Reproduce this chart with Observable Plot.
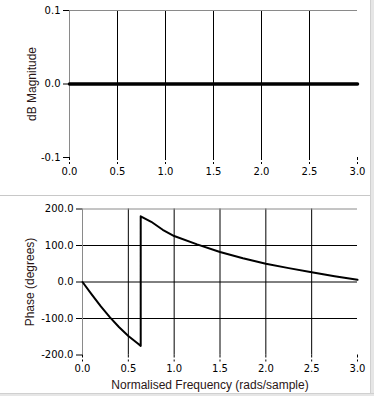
<!DOCTYPE html>
<html>
<head>
<meta charset="utf-8">
<script src="https://cdn.jsdelivr.net/npm/d3@7"></script>
<script src="https://cdn.jsdelivr.net/npm/@observablehq/plot@0.6"></script>
<style>
  html, body { margin: 0; padding: 0; background: #fff; }
  #wrap { position: relative; width: 374px; height: 396px; overflow: hidden; background: #fff; font-family: "Liberation Sans", Arial, sans-serif; }
  #top, #bottom { position: absolute; left: 0; }
  #top { top: 0; }
  #bottom { top: 197px; }
  .sep { position: absolute; left: 0; width: 370px; top: 195px; height: 1px; background: #c8c8c8; }
  .rstrip { position: absolute; left: 370px; top: 0; width: 4px; height: 396px; background: #e6e6e6; border-left: 1px solid #d0d0d0; box-sizing: border-box; }
  .bstrip { position: absolute; left: 0; top: 393px; width: 374px; height: 3px; background: #e6e6e6; border-top: 1px solid #d0d0d0; box-sizing: border-box; }
</style>
</head>
<body>
<div id="wrap">
  <div id="top"></div>
  <div class="sep"></div>
  <div id="bottom"></div>
  <div class="rstrip"></div>
  <div class="bstrip"></div>
</div>
<script>
// ---- data ----
const xTicks = [0, 0.5, 1.0, 1.5, 2.0, 2.5, 3.0];
const xGrid = [0.5, 1.0, 1.5, 2.0, 2.5];

const magTicks = [-0.1, 0.0, 0.1];
const magFreq = [0, 3];
const magDb = [0, 0];

const phaseTicks = [-200, -100, 0, 100, 200];
const phaseGrid = [-100, 0, 100];
const phaseFreq = [0, 0.1, 0.2, 0.3, 0.4, 0.5, 0.6, 0.635, 0.635, 0.75, 0.875, 1.0, 1.25, 1.5, 1.75, 2.0, 2.25, 2.5, 2.75, 3.0];
const phaseDeg  = [0, -34, -67, -97, -124, -148, -168, -175, 180, 165, 143, 126, 103, 82, 65, 50, 38, 27, 16, 6];

const magData = magFreq.map((f, i) => ({f, v: magDb[i]}));
const phaseData = phaseFreq.map((f, i) => ({f, v: phaseDeg[i]}));

const font = {fontFamily: "'Liberation Sans', Arial, sans-serif", fontSize: "11px", color: "#000", background: "transparent", overflow: "visible"};
const tickFont = "'DejaVu Sans', sans-serif";
const titleColor = "#2a1616";

const topPlot = Plot.plot({
  width: 374, height: 196,
  marginLeft: 69, marginRight: 17, marginTop: 10, marginBottom: 39,
  style: font,
  x: {domain: [0, 3]},
  y: {domain: [-0.1, 0.1]},
  marks: [
    Plot.ruleX(xGrid, {stroke: "#000", strokeWidth: 1}),
    Plot.ruleY([0.1], {stroke: "#8a8a8a"}),
    Plot.ruleX([0], {stroke: "#8a8a8a"}),
    Plot.line(magData, {x: "f", y: "v", stroke: "#000", strokeWidth: 3.5}),
    Plot.axisX({ticks: xTicks, tickSize: 7, tickPadding: 3, stroke: "#000", fill: "#000", fontFamily: tickFont, fontSize: 10, strokeDasharray: "3,2", tickFormat: d => d.toFixed(1), label: null}),
    Plot.axisY({ticks: magTicks, tickSize: 6, tickPadding: 3, stroke: "#000", fill: "#000", fontFamily: tickFont, fontSize: 10, tickFormat: d => d.toFixed(1), label: null}),
    Plot.text(["dB Magnitude"], {frameAnchor: "left", textAnchor: "middle", dx: -37, rotate: -90, fill: titleColor, fontSize: 12})
  ]
});
document.getElementById("top").appendChild(topPlot);

const bottomPlot = Plot.plot({
  width: 374, height: 199,
  marginLeft: 82, marginRight: 17, marginTop: 11.5, marginBottom: 41.5,
  style: font,
  x: {domain: [0, 3]},
  y: {domain: [-200, 200]},
  marks: [
    Plot.ruleX(xGrid, {stroke: "#000", strokeWidth: 1}),
    Plot.ruleY(phaseGrid, {stroke: "#000", strokeWidth: 1}),
    Plot.ruleY([200], {stroke: "#8a8a8a"}),
    Plot.ruleX([0], {stroke: "#8a8a8a"}),
    Plot.line(phaseData, {x: "f", y: "v", stroke: "#000", strokeWidth: 2}),
    Plot.axisX({ticks: xTicks, tickSize: 7, tickPadding: 3, stroke: "#000", fill: "#000", fontFamily: tickFont, fontSize: 10, strokeDasharray: "3,2", tickFormat: d => d.toFixed(1), label: null}),
    Plot.axisY({ticks: phaseTicks, tickSize: 6, tickPadding: 3, stroke: "#000", fill: "#000", fontFamily: tickFont, fontSize: 10, tickFormat: d => d.toFixed(1), label: null}),
    Plot.text(["Phase (degrees)"], {frameAnchor: "left", textAnchor: "middle", dx: -52, rotate: -90, fill: titleColor, fontSize: 12}),
    Plot.text(["Normalised Frequency (rads/sample)"], {frameAnchor: "bottom", dx: -10, dy: 34, fill: titleColor, fontSize: 12})
  ]
});
document.getElementById("bottom").appendChild(bottomPlot);
</script>
</body>
</html>
